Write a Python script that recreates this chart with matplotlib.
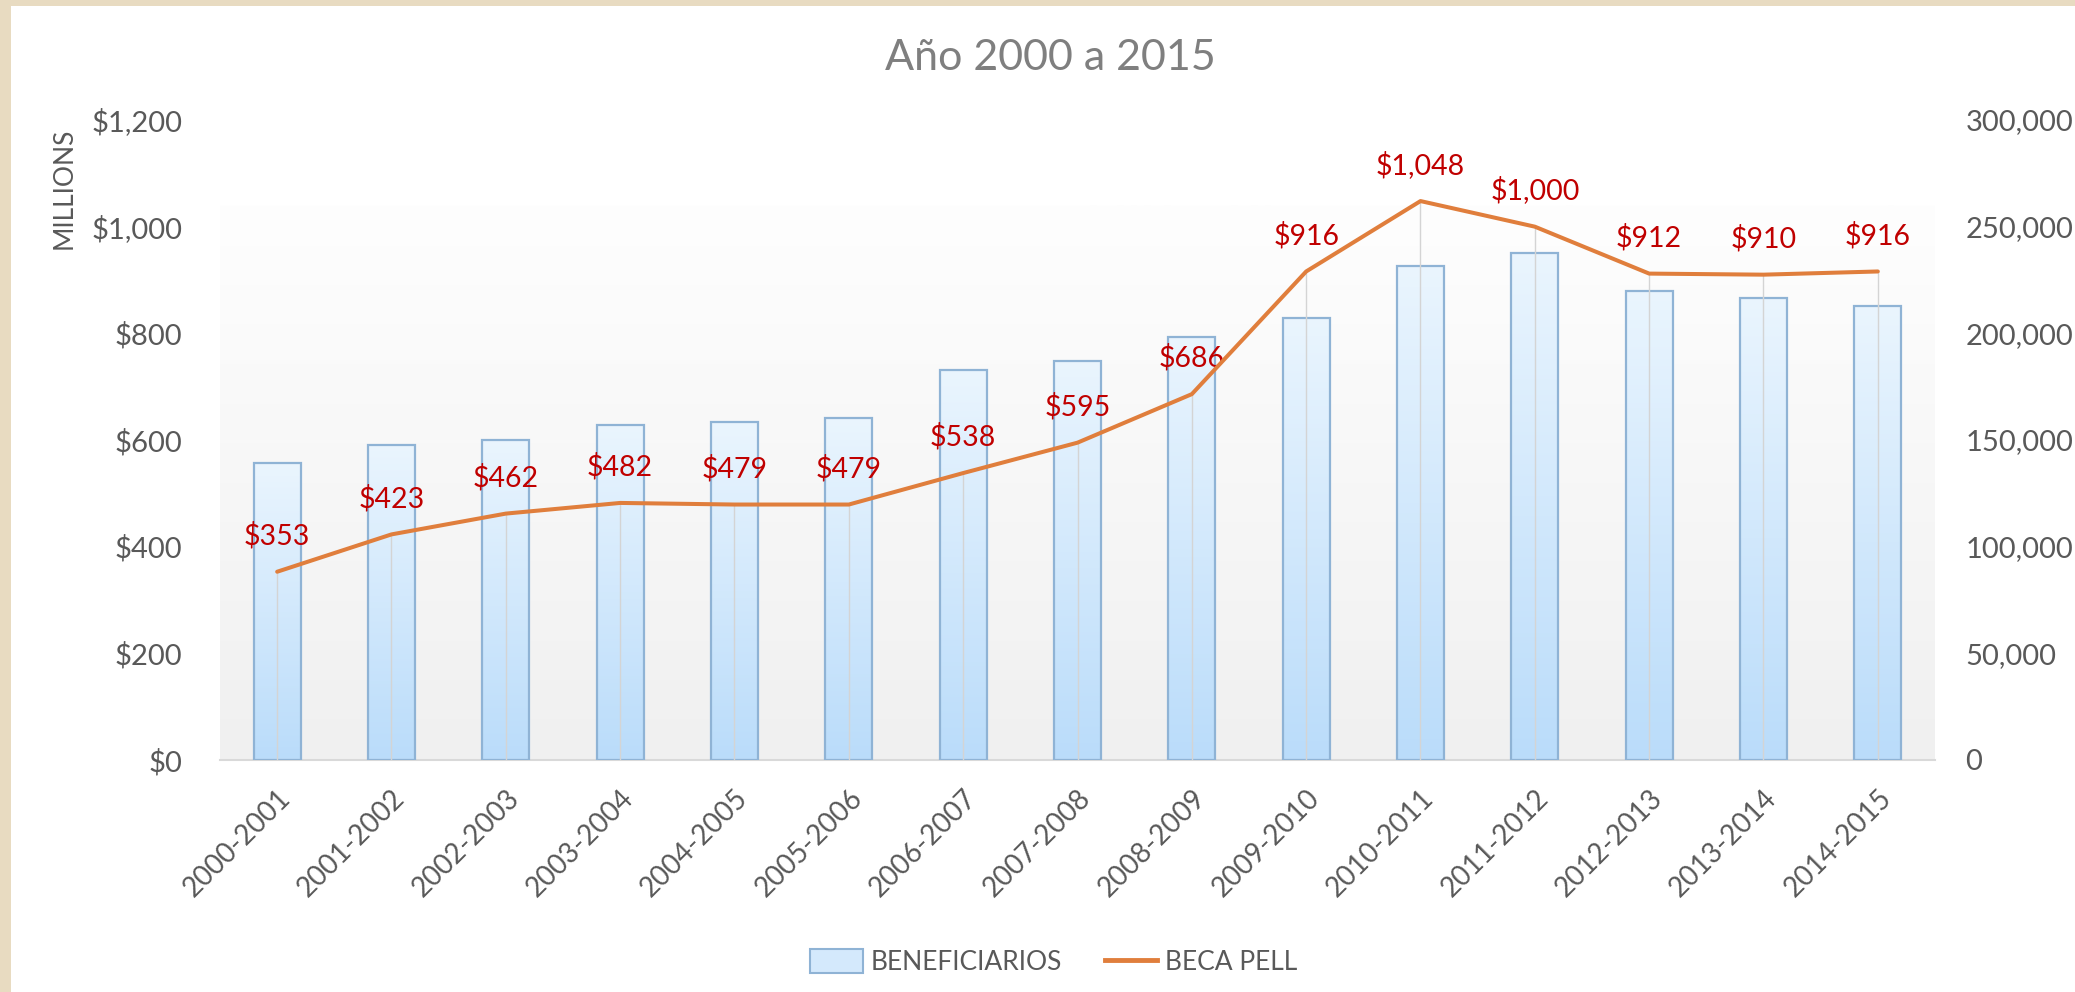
import numpy as np
import matplotlib.pyplot as plt
from matplotlib.colors import LinearSegmentedColormap
from matplotlib.patches import Rectangle, Patch
from matplotlib.lines import Line2D
from matplotlib.ticker import FuncFormatter

plt.rcParams['font.family'] = ['Lato', 'DejaVu Sans']

# data
periods = ['2000-2001', '2001-2002', '2002-2003', '2003-2004', '2004-2005',
           '2005-2006', '2006-2007', '2007-2008', '2008-2009', '2009-2010',
           '2010-2011', '2011-2012', '2012-2013', '2013-2014', '2014-2015']
beneficiarios = [139000, 147700, 150200, 157200, 158300, 160200, 182700, 187200,
                 198100, 207200, 231400, 237800, 220000, 216400, 212800]
beca_pell = [353, 423, 462, 482, 479, 479, 538, 595, 686, 916, 1048, 1000, 912, 910, 916]

text_gray = '#595959'
orange = '#e07e3c'
bar_edge = '#8fb3d5'

fig = plt.figure(figsize=(20.75, 9.92), dpi=100)
fig.patch.set_facecolor('#e8dbc1')
fig.patches.append(Rectangle((11 / 2075, 0), 1, 1 - 6 / 992, transform=fig.transFigure,
                             facecolor='white', edgecolor='none', zorder=-1))

ax = fig.add_axes([220 / 2075, 1 - 760 / 992, 1715 / 2075, 640 / 992])
ax.set_facecolor('none')
x = np.arange(len(periods))

# plot area gradient
bg = np.linspace(0, 1, 256).reshape(-1, 1)
bg_cmap = LinearSegmentedColormap.from_list('bg', ['#f0f0f0', '#fefefe'])
ax.imshow(bg, extent=[-0.5, 14.5, 0, 260000], origin='lower', aspect='auto',
          cmap=bg_cmap, zorder=0)

# bars with a vertical gradient each
bar_cmap = LinearSegmentedColormap.from_list('bar', ['#badcfa', '#eaf5fe'])
width = 0.41
bars = ax.bar(x, beneficiarios, width=width, facecolor='none', edgecolor=bar_edge,
              linewidth=1.6, zorder=3)
for rect in bars:
    x0, w, h = rect.get_x(), rect.get_width(), rect.get_height()
    ax.imshow(bg, extent=[x0, x0 + w, 0, h], origin='lower', aspect='auto',
              cmap=bar_cmap, zorder=2)

ax.set_xlim(-0.5, 14.5)
ax.set_ylim(0, 300000)
ax.set_xticks(x)
ax.set_xticklabels(periods, rotation=45, ha='right', rotation_mode='anchor')
ax.tick_params(axis='x', length=0, pad=18, labelsize=20, labelcolor=text_gray)
for s in ['top', 'left', 'right']:
    ax.spines[s].set_visible(False)
ax.spines['bottom'].set_color('#d9d9d9')
ax.spines['bottom'].set_linewidth(1.5)

# line on the money axis
ax2 = ax.twinx()
ax.yaxis.tick_right()
ax.set_yticks(np.arange(0, 300001, 50000))
ax.yaxis.set_major_formatter(FuncFormatter(lambda v, p: f'{v:,.0f}'))
ax.tick_params(axis='y', length=0, pad=22, labelsize=21, labelcolor=text_gray)

ax2.yaxis.tick_left()
ax2.set_ylim(0, 1200)
ax2.set_yticks(np.arange(0, 1201, 200))
ax2.yaxis.set_major_formatter(FuncFormatter(lambda v, p: f'${v:,.0f}'))
ax2.tick_params(axis='y', length=0, pad=27, labelsize=21, labelcolor=text_gray)
for s in ax2.spines.values():
    s.set_visible(False)
ax2.vlines(x, 0, beca_pell, color='#d4d4d4', linewidth=1, zorder=1)
ax2.plot(x, beca_pell, color=orange, linewidth=2.9, solid_capstyle='round', zorder=4)
for xi, v in zip(x, beca_pell):
    ax2.annotate(f'${v:,}', (xi, v), xytext=(0, 26), textcoords='offset points',
                 ha='center', va='center', color='#c00000', fontsize=20.5)

fig.text(64 / 2075, 1 - 188 / 992, 'MILLIONS', rotation=90, ha='center', va='center',
         fontsize=19, color=text_gray)
fig.text(1050 / 2075, 1 - 58 / 992, 'Año 2000 a 2015', ha='center', va='center',
         fontsize=31, color='#7f7f7f')

handles = [Patch(facecolor='#d4e9fc', edgecolor=bar_edge, linewidth=1.5),
           Line2D([0], [0], color=orange, linewidth=3.5)]
fig.legend(handles, ['BENEFICIARIOS', 'BECA PELL'], loc='center',
           bbox_to_anchor=(1054 / 2075, 1 - 962 / 992), ncol=2, frameon=False,
           fontsize=19, labelcolor=text_gray, handlelength=2.0, handleheight=1.0,
           handletextpad=0.3, columnspacing=1.6)

fig.savefig('out.png', dpi=100, facecolor=fig.get_facecolor())
